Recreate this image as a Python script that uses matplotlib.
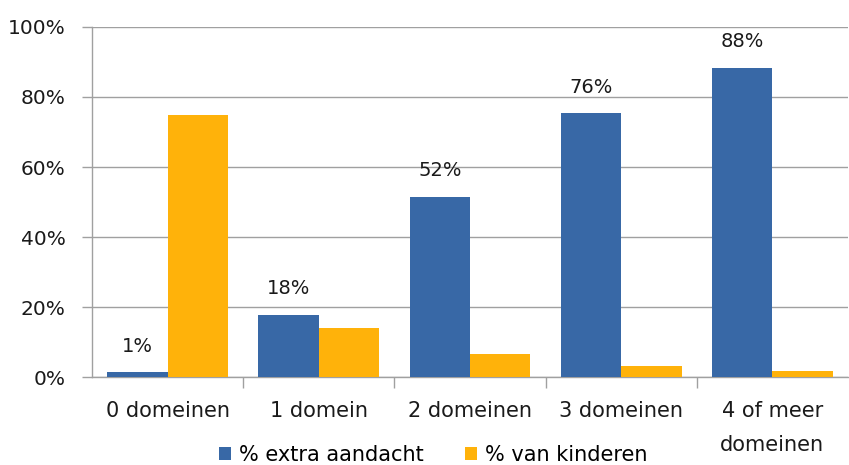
import numpy as np
import matplotlib
matplotlib.use('Agg')
import matplotlib.pyplot as plt

categories = ['0 domeinen', '1 domein', '2 domeinen', '3 domeinen', '4 of meer\ndomeinen']
extra_aandacht = [1.3, 17.7, 51.5, 75.3, 88.2]
van_kinderen = [74.8, 14.0, 6.6, 3.1, 1.7]
labels_extra = ['1%', '18%', '52%', '76%', '88%']

BLUE = '#3868A6'
ORANGE = '#FFB20A'
GREY = '#A0A0A0'
TXT = '#1a1a1a'

plt.rcParams['font.family'] = 'DejaVu Sans'
fig = plt.figure(figsize=(8.49, 4.65), dpi=100)
ax = fig.add_axes([92 / 849, 1 - 377 / 465, 756 / 849, 350 / 465])

x = np.arange(len(categories))
w = 0.4
b1 = ax.bar(x - w / 2, extra_aandacht, w, color=BLUE, label='% extra aandacht', zorder=3)
b2 = ax.bar(x + w / 2, van_kinderen, w, color=ORANGE, label='% van kinderen', zorder=3)

for rect, txt in zip(b1, labels_extra):
    ax.annotate(txt, (rect.get_x() + rect.get_width() / 2, rect.get_height()),
                xytext=(0, 19), textcoords='offset points', ha='center', va='center',
                fontsize=14, color=TXT)

ax.set_xlim(-0.5, len(categories) - 0.5)
ax.set_ylim(0, 100)
ax.set_yticks(range(0, 101, 20))
ax.set_yticklabels([f'{v}%' for v in range(0, 101, 20)])
ax.yaxis.grid(True, color=GREY, linewidth=1, zorder=0)

ax.set_xticks(np.arange(0.5, len(categories) - 1, 1))
ax.set_xticklabels([])
ax.set_xticks(x, minor=True)
ax.set_xticklabels(categories, minor=True, linespacing=1.9)
ax.tick_params(axis='x', which='major', length=8, color=GREY, width=1)
ax.tick_params(axis='x', which='minor', length=0, pad=17, labelsize=15, labelcolor=TXT)
ax.tick_params(axis='y', length=7, color=GREY, width=1, pad=12, labelsize=14.5, labelcolor=TXT)

for s in ['top', 'right']:
    ax.spines[s].set_visible(False)
for s in ['left', 'bottom']:
    ax.spines[s].set_color(GREY)
    ax.spines[s].set_linewidth(1)

fig.legend(handles=[b1, b2], loc='center', bbox_to_anchor=(433 / 849, 1 - 455 / 465),
           ncol=2, frameon=False, fontsize=15, handlelength=0.6, handleheight=0.6,
           handletextpad=0.35, columnspacing=2.0)

fig.savefig('out.png', dpi=100)
